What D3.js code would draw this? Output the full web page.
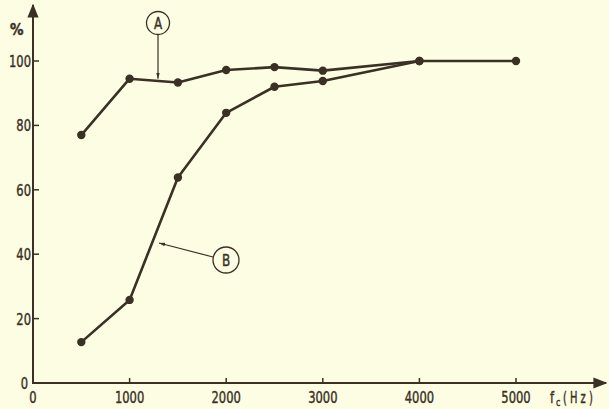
<!DOCTYPE html>
<html><head><meta charset="utf-8">
<script src="https://cdn.jsdelivr.net/npm/d3@7"></script>
<style>
html,body{margin:0;padding:0;background:#fdfde4;}
svg{display:block;}
text{font-family:"DejaVu Sans","DejaVu Sans Condensed",sans-serif;fill:#3a3124;}
</style></head><body>
<svg id="c" width="609" height="409"></svg>
<script>
const freqs = [500, 1000, 1500, 2000, 2500, 3000, 4000, 5000];
const seriesA = [77, 94.5, 93.3, 97.2, 98.1, 97.0, 100, 100];
const freqsB = [500, 1000, 1500, 2000, 2500, 3000, 4000];
const seriesB = [12.7, 25.8, 63.8, 83.9, 92.0, 93.8, 100];
const xTicks = [0, 1000, 2000, 3000, 4000, 5000];
const yTicks = [0, 20, 40, 60, 80, 100];

const ink = "#3a3124";
const svg = d3.select("#c");
const x = d3.scaleLinear().domain([0, 5000]).range([33, 516]);
const y = d3.scaleLinear().domain([0, 100]).range([383, 61]);

function label(g, tx, ty, str, anchor, size, sx, weight) {
  return g.append("text")
    .attr("transform", `translate(${tx},${ty}) scale(${sx||0.72},1)`)
    .attr("text-anchor", anchor || "start")
    .attr("font-size", size || 16)
    .attr("font-weight", weight || "normal")
    .attr("stroke", ink).attr("stroke-width", 0.45)
    .text(str);
}

const defs = svg.append("defs");
defs.append("marker").attr("id","arr").attr("viewBox","0 0 10 10")
  .attr("refX",9).attr("refY",5).attr("markerWidth",7).attr("markerHeight",7).attr("orient","auto")
  .append("path").attr("d","M0,1 L10,5 L0,9 Z").attr("fill",ink);
defs.append("marker").attr("id","sarr").attr("viewBox","0 0 10 10")
  .attr("refX",10).attr("refY",5).attr("markerWidth",5).attr("markerHeight",5).attr("orient","auto")
  .append("path").attr("d","M0,2 L10,5 L0,8 Z").attr("fill",ink);

svg.append("line").attr("x1",33).attr("y1",383).attr("x2",606).attr("y2",383)
  .attr("stroke",ink).attr("stroke-width",2).attr("marker-end","url(#arr)");
svg.append("line").attr("x1",33).attr("y1",384).attr("x2",33).attr("y2",5)
  .attr("stroke",ink).attr("stroke-width",2).attr("marker-end","url(#arr)");

const xa = svg.append("g");
xTicks.forEach(t => {
  if (t > 0) xa.append("line").attr("x1",x(t)).attr("x2",x(t)).attr("y1",378).attr("y2",383).attr("stroke",ink).attr("stroke-width",1.5);
  label(xa, x(t), 403, t, "middle");
});
label(xa, 550, 403, "f");
label(xa, 556, 406, "c", "start", 11);
label(xa, 563, 403, "( H z )", "start", 16, 0.62);

const ya = svg.append("g");
yTicks.forEach(t => {
  ya.append("line").attr("x1",33).attr("x2",39).attr("y1",y(t)).attr("y2",y(t)).attr("stroke",ink).attr("stroke-width",1.5);
  label(ya, t===0?28:31, y(t)+6, t, "end");
});
label(ya, 10, 35, "%", "start", 15, 0.9, "bold");

const line = d3.line().x(d => x(d[0])).y(d => y(d[1]));
const dataA = freqs.map((f,i)=>[f, seriesA[i]]);
const dataB = freqsB.map((f,i)=>[f, seriesB[i]]);
[dataA, dataB].forEach(d => {
  svg.append("path").datum(d).attr("d", line).attr("fill","none").attr("stroke",ink).attr("stroke-width",2.6).attr("stroke-linejoin","round");
  svg.append("g").selectAll("circle").data(d).join("circle")
    .attr("cx", p => x(p[0])).attr("cy", p => y(p[1])).attr("r", 4.2).attr("fill", ink);
});

svg.append("circle").attr("cx",158).attr("cy",23).attr("r",11.5).attr("fill","none").attr("stroke",ink).attr("stroke-width",1.3);
label(svg, 158, 29, "A", "middle", 16, 0.75);
svg.append("line").attr("x1",158).attr("y1",35).attr("x2",158).attr("y2",y(94.2)-1).attr("stroke",ink).attr("stroke-width",1.2).attr("marker-end","url(#sarr)");

svg.append("circle").attr("cx",226).attr("cy",260).attr("r",13).attr("fill","none").attr("stroke",ink).attr("stroke-width",1.3);
label(svg, 226, 266, "B", "middle", 16, 0.75);
svg.append("line").attr("x1",213).attr("y1",257).attr("x2",159).attr("y2",243).attr("stroke",ink).attr("stroke-width",1.2).attr("marker-end","url(#sarr)");
</script>
</body></html>
